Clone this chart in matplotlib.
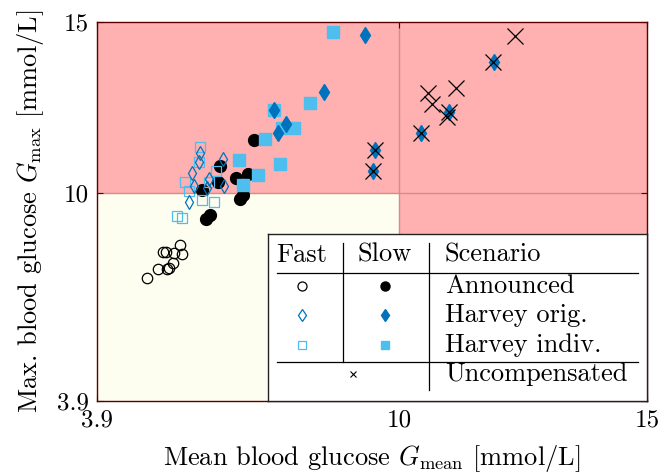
import matplotlib
matplotlib.use("Agg")
import matplotlib.pyplot as plt
import matplotlib.patches as mpatches

plt.rcParams["font.family"] = "serif"
plt.rcParams["font.serif"] = ["cmr10"]
plt.rcParams["mathtext.fontset"] = "cm"
plt.rcParams["axes.formatter.use_mathtext"] = True

# ── colours ────────────────────────────────────────────────────────────────
C_DBLUE = "#0072BD"
C_LBLUE = "#4DBEEE"
C_PINK = "#FFB0B0"
C_CREAM = "#FDFDF0"
C_SPINE = "#5A0000"
C_EDGE = "#D88A8A"

LIMIT = 10.0
AX_MIN, AX_MAX = 3.9, 15.0

# ── data: (G_mean, G_max) in mmol/L ────────────────────────────────────────
fast_ann_x = [4.90, 5.14, 5.24, 5.29, 5.32, 5.36, 5.43, 5.45, 5.58, 5.62]
fast_ann_y = [7.49, 7.76, 8.27, 8.27, 7.76, 7.80, 7.95, 8.23, 8.47, 8.21]

slow_ann_x = [7.07, 6.38, 6.35, 6.02, 6.71, 6.95, 6.79, 6.85, 6.10, 6.18]
slow_ann_y = [11.54, 10.77, 10.31, 10.07, 10.43, 10.55, 9.82, 9.93, 9.23, 9.35]

fast_hor_x = [5.98, 5.95, 5.81, 6.45, 5.86, 6.17, 6.13, 6.47, 5.76]
fast_hor_y = [11.15, 10.91, 10.58, 10.99, 10.21, 10.39, 10.15, 10.21, 9.73]

slow_hor_x = [9.31, 8.48, 7.47, 7.71, 7.56, 9.52, 9.48, 11.91, 11.01, 10.43]
slow_hor_y = [14.62, 12.94, 12.42, 12.01, 11.74, 11.25, 10.64, 13.84, 12.37, 11.74]

fast_hind_x = [5.98, 5.96, 6.30, 5.68, 5.76, 6.17, 6.01, 6.26, 5.51, 5.61]
fast_hind_y = [11.34, 10.91, 10.65, 10.31, 10.06, 10.30, 9.79, 9.72, 9.33, 9.26]

slow_hind_x = [8.66, 8.20, 7.47, 7.29, 7.63, 7.88, 6.77, 7.59, 7.14, 6.85]
slow_hind_y = [14.72, 12.62, 12.42, 11.56, 11.89, 11.89, 10.96, 10.83, 10.52, 10.24]

uncomp_x = [12.34, 11.90, 11.15, 10.59, 10.67, 11.01, 10.96, 10.43, 9.52, 9.48]
uncomp_y = [14.59, 13.84, 13.06, 12.91, 12.59, 12.37, 12.23, 11.74, 11.25, 10.64]

x_ticks = [3.9, 10, 15]
x_ticklabels = ["3.9", "10", "15"]
y_ticks = [3.9, 10, 15]
y_ticklabels = ["3.9", "10", "15"]

scenarios = ["Announced", "Harvey orig.", "Harvey indiv."]

# marker styles per scenario: (marker, colour, size)
styles = [("o", "black", 7.5), ("d", C_DBLUE, 8.5), ("s", C_LBLUE, 8.0)]

W, H = 662, 473
fig = plt.figure(figsize=(W / 100, H / 100), dpi=100, facecolor="white")
ax = fig.add_axes([97 / W, 1 - 401 / H, 550 / W, 379 / H])

# ── safe / unsafe regions ──────────────────────────────────────────────────
ax.set_facecolor(C_PINK)
ax.add_patch(mpatches.Rectangle((AX_MIN, AX_MIN), LIMIT - AX_MIN, LIMIT - AX_MIN,
                                facecolor=C_CREAM, edgecolor="none", zorder=0))
ax.axvline(LIMIT, color=C_EDGE, lw=1.0, zorder=0.5)
ax.axhline(LIMIT, color=C_EDGE, lw=1.0, zorder=0.5)

# ── scatter series ─────────────────────────────────────────────────────────
ax.plot(fast_ann_x, fast_ann_y, ls="none", marker="o", ms=7.5, mfc="none",
        mec="black", mew=0.9, zorder=2)
ax.plot(slow_ann_x, slow_ann_y, ls="none", marker="o", ms=8.5, mfc="black",
        mec="black", zorder=2)
ax.plot(fast_hind_x, fast_hind_y, ls="none", marker="s", ms=7.5, mfc="none",
        mec=C_LBLUE, mew=0.9, zorder=3)
ax.plot(slow_hind_x, slow_hind_y, ls="none", marker="s", ms=8.3, mfc=C_LBLUE,
        mec=C_LBLUE, zorder=3)
ax.plot(fast_hor_x, fast_hor_y, ls="none", marker="d", ms=7.5, mfc="none",
        mec=C_DBLUE, mew=0.9, zorder=4)
ax.plot(slow_hor_x, slow_hor_y, ls="none", marker="d", ms=8.0, mfc=C_DBLUE,
        mec=C_DBLUE, zorder=4)
ax.plot(uncomp_x, uncomp_y, ls="none", marker="x", ms=12, mec="black",
        mew=0.9, zorder=5)

# ── axes ───────────────────────────────────────────────────────────────────
ax.set_xlim(AX_MIN, AX_MAX)
ax.set_ylim(AX_MIN, AX_MAX)
ax.set_xticks(x_ticks)
ax.set_xticklabels(x_ticklabels)
ax.set_yticks(y_ticks)
ax.set_yticklabels(y_ticklabels)
ax.tick_params(direction="in", length=4, width=0.8, color=C_SPINE,
               top=True, right=True, labelsize=18, pad=6)
for sp in ax.spines.values():
    sp.set_color(C_SPINE)
    sp.set_linewidth(1.0)
ax.set_xlabel(r"Mean blood glucose $G_\mathrm{mean}$ [mmol/L]", fontsize=19, labelpad=8)
ax.set_ylabel(r"Max. blood glucose $G_\mathrm{max}$ [mmol/L]", fontsize=19, labelpad=8)

# ── table-style legend (pixel coordinates) ─────────────────────────────────
lx0, lx1, ly0, ly1 = 268, 647, 234, 401
lg = fig.add_axes([lx0 / W, 1 - ly1 / H, (lx1 - lx0) / W, (ly1 - ly0) / H])
lg.set_xlim(lx0, lx1)
lg.set_ylim(ly1, ly0)
lg.set_xticks([])
lg.set_yticks([])
lg.set_facecolor("white")
for sp in lg.spines.values():
    sp.set_color("#222222")
    sp.set_linewidth(1.0)

col_fast, col_slow, col_text = 302, 385, 445
row_head = 255
row_y = [286, 315, 345]
row_unc = 374

lg.text(col_fast, row_head, "Fast", ha="center", va="center", fontsize=19)
lg.text(col_slow, row_head, "Slow", ha="center", va="center", fontsize=19)
lg.text(col_text, row_head, "Scenario", ha="left", va="center", fontsize=19)
lg.plot([277, 638], [272.5, 272.5], color="black", lw=0.9)
lg.plot([277, 638], [361.5, 361.5], color="black", lw=0.9)
lg.plot([342.5, 342.5], [243, 361.5], color="black", lw=0.9)
lg.plot([428.5, 428.5], [243, 390], color="black", lw=0.9)

for name, y, (mk, col, _) in zip(scenarios, row_y, styles):
    lg.plot([col_fast], [y], ls="none", marker=mk, ms=6.5 if mk != "s" else 6,
            mfc="none", mec=col, mew=0.9)
    lg.plot([col_slow], [y], ls="none", marker=mk, ms=6.5 if mk != "s" else 6,
            mfc=col, mec=col)
    lg.text(col_text, y, name, ha="left", va="center", fontsize=19)

lg.plot([353], [row_unc], ls="none", marker="x", ms=5, mec="black", mew=0.8)
lg.text(col_text, row_unc, "Uncompensated", ha="left", va="center", fontsize=19)

fig.savefig("out.png", dpi=100, facecolor="white")
